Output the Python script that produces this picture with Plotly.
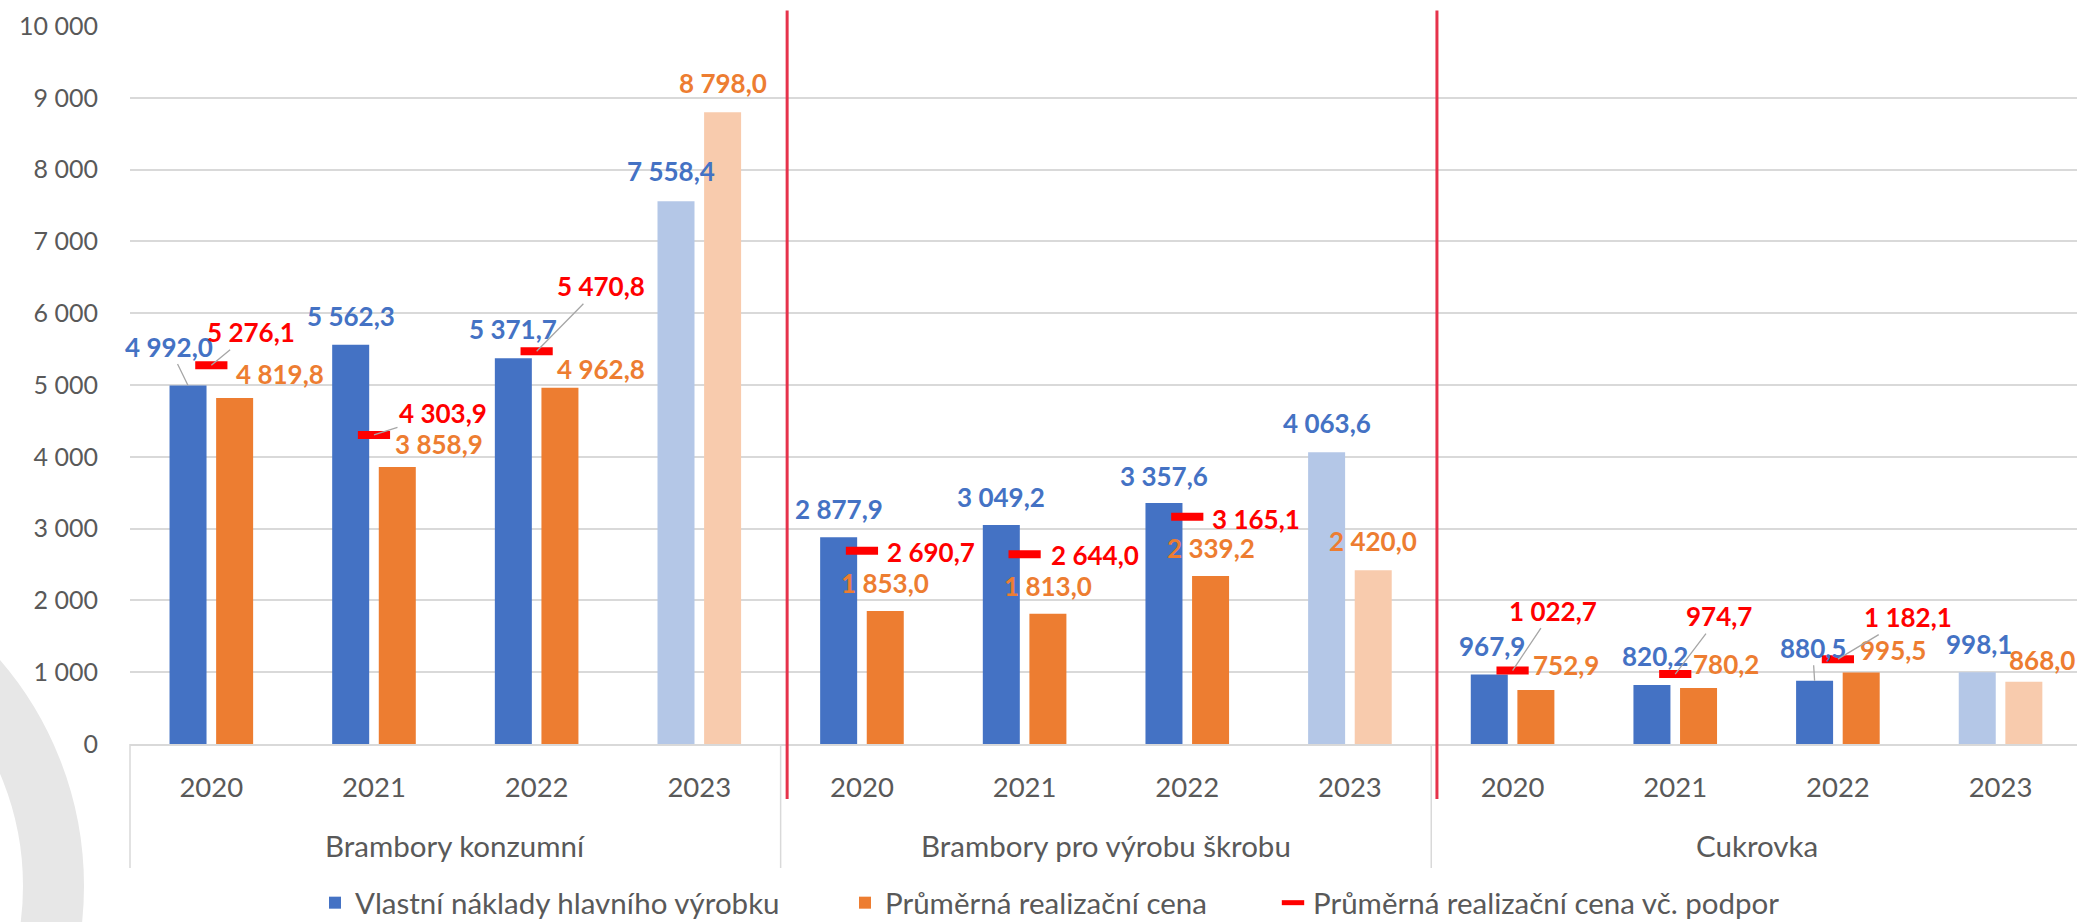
import plotly.graph_objects as go

# ---------------- data ----------------
groups = ["Brambory konzumní", "Brambory pro výrobu škrobu", "Cukrovka"]
years = ["2020", "2021", "2022", "2023"]

naklady = [4992.0, 5562.3, 5371.7, 7558.4,
           2877.9, 3049.2, 3357.6, 4063.6,
           967.9, 820.2, 880.5, 998.1]
cena = [4819.8, 3858.9, 4962.8, 8798.0,
        1853.0, 1813.0, 2339.2, 2420.0,
        752.9, 780.2, 995.5, 868.0]
# support-inclusive price, only 2020-2022
cena_podpora = {
    "Brambory konzumní": [5276.1, 4303.9, 5470.8],
    "Brambory pro výrobu škrobu": [2690.7, 2644.0, 3165.1],
    "Cukrovka": [1022.7, 974.7, 1182.1],
}

series_names = ["Vlastní náklady hlavního výrobku",
                "Průměrná realizační cena",
                "Průměrná realizační cena vč. podpor"]

y_ticks = list(range(0, 10001, 1000))

# ---------------- styles / label placement (pixels) ----------------
FONT = "Lato, 'Open Sans', sans-serif"
C_BLUE, C_BLUE_L = "#4472C4", "#B4C7E7"
C_ORANGE, C_ORANGE_L = "#ED7D31", "#F8CBAD"
C_RED = "#FF0000"
GREY_TXT = "#595959"
GRID = "#D9D9D9"

# (dx, dy, leader) offsets of label centre from anchor point, screen px
blue_off = [(-19, -39, True), (0, -29, False), (0, -29, False), (-5, -30, False),
            (0, -28, False), (0, -28, False), (0, -27, False), (0, -29, False),
            (3, -29, False), (3, -29, False), (-2, -33, True), (2, -28, False)]
orange_off = [(45, -24, False), (42, -23, False), (41, -19, False), (0, -29, False),
              (0, -28, False), (0, -28, False), (0, -28, False), (0, -29, False),
              (30, -25, False), (27, -24, False), (32, -23, False), (18, -22, False)]
red_off = [(40, -33, True), (69, -22, True), (64, -65, True),
           (69, 1, False), (70, 1, False), (69, 2, False),
           (40, -60, True), (44, -58, True), (70, -42, True)]

BARGAP = 0.427
BARGROUPGAP = 0.206
X_RANGE = [-0.5, 11.47]
M_L, M_R, M_T, M_B = 130, 0, 26, 178
W, H = 2077, 922

# ---------------- build ----------------
cat_keys = [f"{g} {y}" for g in groups for y in years]
cat_years = [y for _ in groups for y in years]
n = len(cat_keys)

blue_colors = [C_BLUE_L if y == "2023" else C_BLUE for y in cat_years]
orange_colors = [C_ORANGE_L if y == "2023" else C_ORANGE for y in cat_years]

red_x, red_vals, red_idx = [], [], []
for gi, g in enumerate(groups):
    for yi, v in enumerate(cena_podpora[g]):
        red_x.append(f"{g} {years[yi]}")
        red_vals.append(v)
        red_idx.append(gi * len(years) + yi)


def fmt(v):
    return f"{v:,.1f}".replace(",", " ").replace(".", ",")


fig = go.Figure()
fig.add_trace(go.Bar(x=cat_keys, y=naklady, name=series_names[0], legend="legend",
                     marker=dict(color=blue_colors, line=dict(width=0)),
                     hoverinfo="skip"))
fig.add_trace(go.Bar(x=cat_keys, y=cena, name=series_names[1], legend="legend2",
                     marker=dict(color=orange_colors, line=dict(width=0)),
                     hoverinfo="skip"))
fig.add_trace(go.Scatter(x=red_x, y=red_vals, name=series_names[2], legend="legend3",
                         mode="markers",
                         marker=dict(symbol="line-ew", size=23, color=C_RED,
                                     line=dict(color=C_RED, width=8)),
                         hoverinfo="skip"))

off = (1 - BARGAP) / 4.0
annotations = []


def add_label(xpos, val, color, o):
    dx, dy, leader = o
    base = dict(x=xpos, y=val, xref="x", yref="y", text=fmt(val),
                font=dict(family=FONT, size=26, color=color, weight="bold"))
    if leader:
        base.update(showarrow=True, arrowhead=0, arrowwidth=1.3,
                    arrowcolor="#A6A6A6", ax=dx, ay=dy, axref="pixel", ayref="pixel",
                    xanchor="center", yanchor="middle")
    else:
        base.update(showarrow=False, xshift=dx, yshift=-dy,
                    xanchor="center", yanchor="middle")
    annotations.append(base)


for i in range(n):
    add_label(i - off, naklady[i], C_BLUE, blue_off[i])
    add_label(i + off, cena[i], C_ORANGE, orange_off[i])
for k, i in enumerate(red_idx):
    add_label(i, red_vals[k], C_RED, red_off[k])

plot_h = H - M_T - M_B


def xpaper(v):
    return (v - X_RANGE[0]) / (X_RANGE[1] - X_RANGE[0])


def ypaper_px(py):
    return (H - M_B - py) / plot_h


# group (outer category) labels
for gi, g in enumerate(groups):
    annotations.append(dict(x=gi * len(years) + (len(years) - 1) / 2.0, xref="x",
                            y=ypaper_px(845), yref="paper", text=g, showarrow=False,
                            xanchor="center", yanchor="middle",
                            font=dict(family=FONT, size=29.5, color=GREY_TXT)))

shapes = []
# category-axis group dividers
for gi in range(len(groups) + 1):
    xb = xpaper(gi * len(years) - 0.5)
    shapes.append(dict(type="line", xref="paper", yref="paper",
                       x0=xb, x1=xb, y0=0, y1=ypaper_px(868),
                       line=dict(color=GRID, width=1.5), layer="above"))
# red separators between crops
for b in (3.54, 7.535):
    shapes.append(dict(type="line", xref="paper", yref="paper",
                       x0=xpaper(b), x1=xpaper(b), y0=ypaper_px(799), y1=ypaper_px(10.5),
                       line=dict(color="#E6334B", width=3), layer="above"))
# decorative grey ring in the lower-left corner
cx, cy, r = -262, 886, 315.5
pw = W - M_L - M_R
shapes.append(dict(type="circle", xref="paper", yref="paper",
                   x0=(cx - r - M_L) / pw, x1=(cx + r - M_L) / pw,
                   y0=ypaper_px(cy + r), y1=ypaper_px(cy - r),
                   line=dict(color="#E7E7E7", width=61), fillcolor="rgba(0,0,0,0)",
                   layer="below"))

leg_common = dict(orientation="h", xanchor="left", y=ypaper_px(903), yanchor="middle",
                  font=dict(family=FONT, size=29.5, color=GREY_TXT),
                  bgcolor="rgba(0,0,0,0)")
fig.update_layout(
    width=W, height=H,
    margin=dict(l=M_L, r=M_R, t=M_T, b=M_B, pad=0, autoexpand=False),
    paper_bgcolor="white", plot_bgcolor="white",
    barmode="group", bargap=BARGAP, bargroupgap=BARGROUPGAP,
    separators=", ",
    font=dict(family=FONT, size=28, color=GREY_TXT),
    showlegend=True,
    legend=dict(x=(315 - M_L) / pw, **leg_common),
    legend2=dict(x=(845 - M_L) / pw, **leg_common),
    legend3=dict(x=(1273 - M_L) / pw, **leg_common),
    annotations=annotations,
    shapes=shapes,
)
fig.update_yaxes(range=[0, 10000], tickvals=y_ticks, tickformat=",.0f",
                 showgrid=True, gridcolor=GRID, gridwidth=1.5,
                 zeroline=False, showline=False, ticks="", automargin=False,
                 ticklabelstandoff=31,
                 tickfont=dict(family=FONT, size=25, color=GREY_TXT))
fig.update_xaxes(type="category", range=X_RANGE, tickvals=cat_keys, ticktext=cat_years,
                 showline=True, linecolor=GRID, linewidth=1.5,
                 showgrid=False, ticks="", automargin=False,
                 ticklabelstandoff=18,
                 tickfont=dict(family=FONT, size=27.5, color=GREY_TXT))

fig.write_html("out.html",
               config={"displayModeBar": False},
               post_script="document.body.style.margin='0';document.body.style.padding='0';")
